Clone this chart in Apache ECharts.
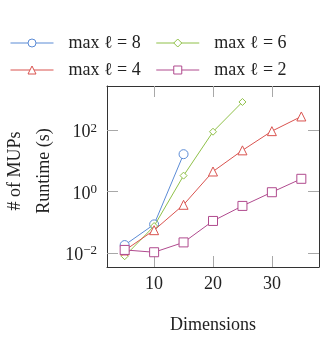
<!DOCTYPE html>
<html><head><meta charset="utf-8">
<script src="https://cdn.jsdelivr.net/npm/echarts@6/dist/echarts.min.js"></script>
<style>html,body{margin:0;padding:0;background:#fff}#c{width:327px;height:339px}</style>
</head><body><div id="c"></div>
<script>
const dims = [5, 10, 15, 20, 25, 30, 35];
const l8 = [0.018, 0.085, 16.5];
const l6 = [0.0078, 0.075, 3.3, 89, 830];
const l4 = [0.012, 0.055, 0.37, 4.5, 22, 93, 280];
const l2 = [0.0125, 0.0105, 0.022, 0.11, 0.34, 0.95, 2.6];
const names = ['max ℓ = 8', 'max ℓ = 6', 'max ℓ = 4', 'max ℓ = 2'];
const xTicks = [10, 20, 30];
const yTicks = [0.01, 1, 100];

const colors = ['#5b8bd5', '#8fc048', '#d9534f', '#b04a8e'];
const symbols = ['circle', 'diamond', 'triangle', 'rect'];
const sizes = [9, 7, 9, 9];
const FONT = 'Liberation Serif';
const TXT = '#222';

function pair(vals) { return vals.map((v, i) => [dims[i], v]); }
const seriesData = [l8, l6, l4, l2];
const series = seriesData.map((d, i) => ({
  name: names[i], type: 'line', data: pair(d), symbol: symbols[i], symbolSize: sizes[i],
  showAllSymbol: true, color: colors[i],
  lineStyle: { color: colors[i], width: 1 },
  itemStyle: { color: '#fff', borderColor: colors[i], borderWidth: 1 },
  z: 2 + i, emphasis: { disabled: true }
}));

function fmt(v) {
  const e = Math.round(Math.log10(v));
  return '{b|10}{s|' + (e < 0 ? '\u2212' + (-e) : e) + '}';
}

const tickStyle = { color: '#a8a8a8', width: 1 };
const boxLine = { show: true, lineStyle: { color: '#333', width: 1 } };
const legendText = { fontFamily: FONT, fontSize: 18, color: TXT, padding: [0, 0, 0, 10], width: 79 };
const legendBase = {
  left: 10, padding: 0, itemWidth: 43, itemHeight: 10, itemGap: 15, textStyle: legendText,
  selectedMode: false, lineStyle: { width: 1 }, itemStyle: { borderWidth: 1 }
};

const chart = echarts.init(document.getElementById('c'));
chart.setOption({
  animation: false,
  grid: { left: 107, top: 86, width: 212, height: 183 },
  legend: [
    Object.assign({ data: [names[0], names[1]], top: 34 }, legendBase),
    Object.assign({ data: [names[2], names[3]], top: 61 }, legendBase)
  ],
  xAxis: [
    {
      type: 'value', min: 2, max: 38, position: 'bottom',
      axisLine: boxLine,
      axisTick: { show: true, inside: true, length: 11, lineStyle: tickStyle, customValues: xTicks },
      axisLabel: { customValues: xTicks, fontFamily: FONT, fontSize: 18, color: TXT, margin: 8 },
      splitLine: { show: false },
      name: 'Dimensions', nameLocation: 'middle', nameGap: 49,
      nameTextStyle: { fontFamily: FONT, fontSize: 18, color: TXT }
    },
    {
      type: 'value', min: 2, max: 38, position: 'top',
      axisLine: boxLine,
      axisTick: { show: true, inside: true, length: 11, lineStyle: tickStyle, customValues: xTicks },
      axisLabel: { show: false }, splitLine: { show: false }
    }
  ],
  yAxis: [
    {
      type: 'log', logBase: 10, min: 0.00347, max: 2754, position: 'left',
      axisLine: boxLine,
      axisTick: { show: true, inside: true, length: 11, lineStyle: tickStyle, customValues: yTicks },
      axisLabel: {
        customValues: yTicks, formatter: fmt, margin: 10, padding: [5, 0, 0, 0],
        rich: {
          b: { fontFamily: FONT, fontSize: 18, color: TXT, lineHeight: 22 },
          s: { fontFamily: FONT, fontSize: 13, color: TXT, lineHeight: 13, verticalAlign: 'top' }
        }
      },
      splitLine: { show: false }, minorTick: { show: false }
    },
    {
      type: 'log', logBase: 10, min: 0.00347, max: 2754, position: 'right',
      axisLine: boxLine,
      axisTick: { show: true, inside: true, length: 11, lineStyle: tickStyle, customValues: yTicks },
      axisLabel: { show: false }, splitLine: { show: false }
    }
  ],
  graphic: [
    { type: 'text', x: 15, y: 171, rotation: Math.PI / 2,
      style: { text: '# of MUPs', font: '18px "Liberation Serif"', fill: TXT, align: 'center', verticalAlign: 'middle' } },
    { type: 'text', x: 44, y: 171, rotation: Math.PI / 2,
      style: { text: 'Runtime (s)', font: '18px "Liberation Serif"', fill: TXT, align: 'center', verticalAlign: 'middle' } }
  ],
  series: series
});
</script>
</body></html>
